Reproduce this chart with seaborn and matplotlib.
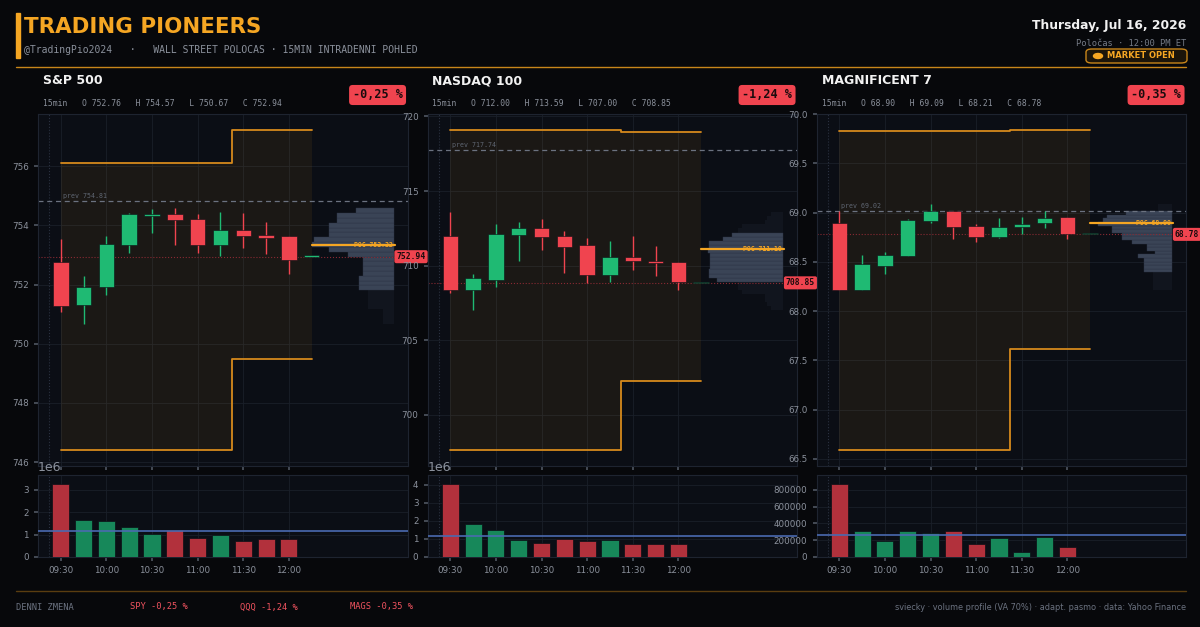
import numpy as np
import seaborn as sns
import matplotlib.pyplot as plt
import matplotlib.transforms as mtransforms
from matplotlib.patches import Rectangle, FancyBboxPatch, Ellipse
from matplotlib.lines import Line2D
from matplotlib.ticker import MultipleLocator

# --- data -------------------------------------------------------------
times = ['09:30', '09:45', '10:00', '10:15', '10:30', '10:45',
         '11:00', '11:15', '11:30', '11:45', '12:00', '12:15']

# S&P 500 (SPY x10)
spx_open = [752.76, 751.31, 751.91, 753.35, 754.32, 754.38, 754.22, 753.34, 753.85, 753.67, 753.63, 752.94]
spx_high = [753.55, 752.30, 753.65, 754.42, 754.55, 754.57, 754.39, 754.46, 754.43, 754.12, 753.63, 752.94]
spx_low = [751.08, 750.67, 751.64, 753.07, 753.74, 753.34, 753.07, 752.97, 753.25, 753.03, 752.36, 752.94]
spx_close = [751.27, 751.93, 753.38, 754.37, 754.38, 754.17, 753.34, 753.83, 753.65, 753.58, 752.84, 752.94]
spx_vol = [3270000, 1640000, 1590000, 1330000, 1010000, 1190000, 860000, 970000, 710000, 790000, 790000, 0]
spx_upper = [756.12, 756.12, 756.12, 756.12, 756.12, 756.12, 756.12, 756.12, 757.22, 757.22, 757.22, 757.22]
spx_lower = [746.41, 746.41, 746.41, 746.41, 746.41, 746.41, 746.41, 746.41, 749.49, 749.49, 749.49, 749.49]
spx_prev = 754.81
spx_poc = 753.32
spx_profile = [0.13, 0.13, 0.13, 0.31, 0.31, 0.31, 0.31, 0.43, 0.43, 0.43, 0.37, 0.37,
               0.37, 0.37, 0.56, 0.79, 1.00, 0.97, 0.79, 0.79, 0.79, 0.69, 0.69, 0.46]
spx_va = (7, 23)

# NASDAQ 100 (QQQ)
ndx_open = [712.00, 708.37, 709.04, 712.05, 712.50, 712.01, 711.41, 709.40, 710.60, 710.29, 710.25, 708.85]
ndx_high = [713.59, 709.47, 712.79, 712.92, 713.10, 712.30, 711.86, 711.67, 712.01, 711.32, 710.25, 708.85]
ndx_low = [708.19, 707.00, 708.59, 710.33, 711.05, 709.53, 708.86, 708.93, 709.69, 709.33, 708.35, 708.85]
ndx_close = [708.35, 709.17, 712.10, 712.50, 711.94, 711.23, 709.40, 710.60, 710.31, 710.18, 708.92, 708.85]
ndx_vol = [4060000, 1810000, 1480000, 940000, 790000, 980000, 870000, 920000, 740000, 700000, 740000, 0]
ndx_upper = [719.09, 719.09, 719.09, 719.09, 719.09, 719.09, 719.09, 719.09, 718.93, 718.93, 718.93, 718.93]
ndx_lower = [697.65, 697.65, 697.65, 697.65, 697.65, 697.65, 697.65, 697.65, 702.29, 702.29, 702.29, 702.29]
ndx_prev = 717.74
ndx_poc = 711.10
ndx_profile = [0.15, 0.20, 0.22, 0.22, 0.50, 0.55, 0.55, 0.81, 0.91, 0.91, 0.89, 0.89,
               0.89, 0.89, 0.92, 0.91, 0.91, 0.73, 0.63, 0.55, 0.50, 0.22, 0.20, 0.15]
ndx_va = (7, 18)

# MAGNIFICENT 7 (MAGS)
mag_open = [68.90, 68.21, 68.46, 68.56, 68.92, 69.02, 68.86, 68.75, 68.85, 68.90, 68.96, 68.78]
mag_high = [69.02, 68.57, 68.60, 68.94, 69.09, 69.02, 68.89, 68.95, 68.96, 69.02, 68.96, 68.78]
mag_low = [68.21, 68.21, 68.38, 68.56, 68.90, 68.73, 68.70, 68.74, 68.78, 68.84, 68.73, 68.78]
mag_close = [68.21, 68.48, 68.57, 68.93, 69.02, 68.85, 68.75, 68.85, 68.89, 68.95, 68.78, 68.78]
mag_vol = [871000, 305000, 194000, 305000, 289000, 305000, 158000, 226000, 59000, 242000, 119000, 0]
mag_upper = [69.83, 69.83, 69.83, 69.83, 69.83, 69.83, 69.83, 69.83, 69.84, 69.84, 69.84, 69.84]
mag_lower = [66.59, 66.59, 66.59, 66.59, 66.59, 66.59, 66.59, 66.59, 67.62, 67.62, 67.62, 67.62]
mag_prev = 69.02
mag_poc = 68.90
mag_profile = [0.23, 0.23, 0.23, 0.23, 0.23, 0.34, 0.34, 0.34, 0.34, 0.42, 0.21, 0.31,
               0.31, 0.49, 0.61, 0.61, 0.74, 0.74, 0.90, 0.85, 0.80, 0.57, 0.17, 0.17]
mag_va = (5, 21)

panels = [
    dict(name='S&P 500', ticker='SPY', o=spx_open, h=spx_high, l=spx_low, c=spx_close,
         vol=spx_vol, up=spx_upper, lo=spx_lower, prev=spx_prev, poc=spx_poc,
         prof=spx_profile, va=spx_va, step=2, vstep=1000000),
    dict(name='NASDAQ 100', ticker='QQQ', o=ndx_open, h=ndx_high, l=ndx_low, c=ndx_close,
         vol=ndx_vol, up=ndx_upper, lo=ndx_lower, prev=ndx_prev, poc=ndx_poc,
         prof=ndx_profile, va=ndx_va, step=5, vstep=1000000),
    dict(name='MAGNIFICENT 7', ticker='MAGS', o=mag_open, h=mag_high, l=mag_low, c=mag_close,
         vol=mag_vol, up=mag_upper, lo=mag_lower, prev=mag_prev, poc=mag_poc,
         prof=mag_profile, va=mag_va, step=0.5, vstep=200000),
]

# --- style ------------------------------------------------------------
FIG_BG = '#07080b'
AX_BG = '#0b0e15'
GRID = '#1a1f29'
SPINE = '#1e2430'
GREEN = '#1fba73'
RED = '#f0444f'
VGREEN = '#17885a'
VRED = '#b2313c'
ORANGE = '#f5a623'
BAND = '#d68a1c'
MUTED = '#8b919c'
MONO = 'DejaVu Sans Mono'

sns.set_theme(style='dark', rc={
    'figure.facecolor': FIG_BG, 'axes.facecolor': AX_BG, 'axes.edgecolor': SPINE,
    'axes.grid': True, 'grid.color': GRID, 'grid.linewidth': 0.6,
    'xtick.bottom': True, 'ytick.left': True, 'xtick.color': '#4d535e', 'ytick.color': '#4d535e',
    'xtick.labelcolor': MUTED, 'ytick.labelcolor': MUTED,
    'xtick.labelsize': 6.3, 'ytick.labelsize': 6.3,
    'xtick.major.size': 3, 'ytick.major.size': 3, 'text.color': '#e8e8e8',
})
plt.rcParams['font.family'] = ['DejaVu Sans']

W, H = 1200, 627
fig = plt.figure(figsize=(12, 6.27), dpi=100)


def fx(px):
    return px / W


def fy(py):
    return 1 - py / H


# header
fig.add_artist(Rectangle((fx(16), fy(58)), fx(3.5), 45 / H, color=ORANGE, transform=fig.transFigure))
fig.text(fx(24), fy(27), 'TRADING PIONEERS', fontsize=15.4, weight='bold', color=ORANGE, va='center')
fig.text(fx(24), fy(50), '@TradingPio2024   ·   WALL STREET POLOCAS · 15MIN INTRADENNI POHLED',
         fontsize=7.0, family=MONO, color=MUTED, va='center')
fig.text(fx(1186), fy(26), 'Thursday, Jul 16, 2026', fontsize=8.8, weight='bold', color='#f2f2f2',
         ha='right', va='center')
fig.text(fx(1186), fy(44), 'Poločas · 12:00 PM ET', fontsize=6.3, family=MONO, color='#767c87',
         ha='right', va='center')
fig.add_artist(FancyBboxPatch((fx(1086), fy(63)), fx(101), 14 / H,
                              boxstyle='round,pad=0,rounding_size=0.005',
                              fc='#1c150a', ec='#c8861a', lw=1, transform=fig.transFigure))
fig.add_artist(Ellipse((fx(1098), fy(56)), fx(9), 5 / H, color=ORANGE, transform=fig.transFigure))
fig.text(fx(1107), fy(56), 'MARKET OPEN', fontsize=6.0, weight='bold', color=ORANGE, va='center')
fig.add_artist(Line2D([fx(16), fx(1186)], [fy(67), fy(67)], color='#c8861a', lw=1))
fig.add_artist(Line2D([fx(16), fx(1186)], [fy(591), fy(591)], color='#5a3d10', lw=1))

lefts = [38, 427.5, 816.5]
AXW = 369.5
PROFILE_RIGHT = 14.6
PROFILE_SPAN = 3.6
x = np.arange(len(times))
tick_pos = x[:-1:2]
tick_lab = times[:-1:2]

for p, left in zip(panels, lefts):
    o, hi, lo, c = (np.array(p[k]) for k in ('o', 'h', 'l', 'c'))
    up, dn = np.array(p['up']), np.array(p['lo'])
    last = c[-1]
    chg = (last - p['prev']) / p['prev'] * 100
    chg_txt = f'{chg:.2f} %'.replace('.', ',')

    # titles
    fig.text(fx(left + 5), fy(81), p['name'], fontsize=9, weight='bold', color='#f2f2f2', va='center')
    fig.text(fx(left + 5), fy(103),
             f'15min   O {o[0]:.2f}   H {hi.max():.2f}   L {lo.min():.2f}   C {last:.2f}',
             fontsize=5.8, family=MONO, color=MUTED, va='center')
    fig.text(fx(left + AXW - 5), fy(95), chg_txt, fontsize=8.5, family=MONO, weight='bold',
             color='#1a0b0d', ha='right', va='center',
             bbox=dict(boxstyle='round,pad=0.3', fc=RED, ec='none'))

    # price axes
    ax = fig.add_axes([fx(left), fy(466), fx(AXW), 352 / H])
    span = up.max() - dn.min()
    ax.set_ylim(dn.min() - 0.05 * span, up.max() + 0.05 * span)
    ax.set_xlim(-1.0, 15.2)
    ax.yaxis.set_major_locator(MultipleLocator(p['step']))
    ax.set_xticks(tick_pos, tick_lab)
    for s in ax.spines.values():
        s.set_color(SPINE)
        s.set_linewidth(0.8)

    ax.fill_between(x, dn, up, step='mid', color=ORANGE, alpha=0.07, lw=0, zorder=1)
    ax.step(x, up, where='mid', color=BAND, lw=1.3, zorder=2)
    ax.step(x, dn, where='mid', color=BAND, lw=1.3, zorder=2)
    ax.axvline(-0.5, color='#2a3140', lw=0.8, ls=':', zorder=1)

    # volume profile
    edges = np.linspace(lo.min(), hi.max(), len(p['prof']) + 1)
    centers = (edges[:-1] + edges[1:]) / 2
    bh = np.diff(edges)
    widths = np.array(p['prof']) * PROFILE_SPAN
    idx = np.arange(len(widths))
    in_va = (idx >= p['va'][0]) & (idx <= p['va'][1])
    ax.barh(centers[~in_va], widths[~in_va], left=PROFILE_RIGHT - widths[~in_va], height=bh[~in_va],
            color='#3a4456', alpha=0.14, lw=0, zorder=2)
    ax.barh(centers[in_va], widths[in_va], left=PROFILE_RIGHT - widths[in_va], height=bh[in_va],
            color='#3a4456', edgecolor='#2c3444', lw=0.3, zorder=2)

    # reference lines
    ax.axhline(p['prev'], color='#6b7280', lw=0.9, ls=(0, (4, 3)), zorder=2.5)
    ax.text(0.08, p['prev'], f"prev {p['prev']:.2f}", fontsize=4.8, family=MONO, color='#5f6672',
            va='bottom', transform=mtransforms.offset_copy(ax.transData, fig=fig, y=2, units='dots'))
    ax.axhline(last, color='#8a2a33', lw=0.8, ls=':', zorder=2.5)
    ax.plot([x[-1], PROFILE_RIGHT + 0.05], [p['poc'], p['poc']], color=ORANGE, lw=1.6, zorder=5)
    ax.text(PROFILE_RIGHT - 0.05, p['poc'], f"POC {p['poc']:.2f}", fontsize=4.7, family=MONO,
            weight='bold', color=ORANGE, ha='right', va='center', zorder=6)
    ax.text(0.97, last, f'{last:.2f}', fontsize=5.8, family=MONO, weight='bold', color='#1a0b0d',
            ha='left', va='center', clip_on=False, zorder=10,
            transform=mtransforms.blended_transform_factory(ax.transAxes, ax.transData),
            bbox=dict(boxstyle='round,pad=0.25', fc=RED, ec='none'))

    # candles
    up_bar = c >= o
    colors = np.where(up_bar, GREEN, RED)
    ax.vlines(x, lo, hi, colors=colors, lw=1.0, zorder=3)
    body = np.maximum(np.abs(c - o), span * 0.004)
    ax.bar(x, body, bottom=np.minimum(o, c), width=0.68, color=colors,
           edgecolor='#0b0e15', lw=0.4, zorder=4)

    # volume axes
    vax = fig.add_axes([fx(left), fy(557), fx(AXW), 82 / H])
    vol = np.array(p['vol'], dtype=float)
    vcol = np.where(up_bar, VGREEN, VRED)
    mask = vol > 0
    vax.bar(x[mask], vol[mask], width=0.75, color=vcol[mask], edgecolor='#0b0e15', lw=0.5, zorder=3)
    vax.axhline(vol.mean(), color='#4a6ab0', lw=1.2, zorder=4)
    vax.axvline(-0.5, color='#2a3140', lw=0.8, ls=':', zorder=1)
    vax.set_xlim(-1.0, 15.2)
    vax.set_ylim(0, vol.max() * 1.12)
    vax.yaxis.set_major_locator(MultipleLocator(p['vstep']))
    vax.set_xticks(tick_pos, tick_lab)
    vax.yaxis.get_offset_text().set_color(MUTED)
    vax.yaxis.get_offset_text().set_fontsize(9)
    for s in vax.spines.values():
        s.set_color(SPINE)
        s.set_linewidth(0.8)

# footer
fig.text(fx(16), fy(607), 'DENNI ZMENA', fontsize=6.3, family=MONO, color='#6b7280', va='center')
for p, xp in zip(panels, [130, 240, 350]):
    chg = (p['c'][-1] - p['prev']) / p['prev'] * 100
    fig.text(fx(xp), fy(607), f"{p['ticker']} {chg:.2f} %".replace('.', ','), fontsize=6.3,
             family=MONO, color='#f0535f', va='center')
fig.text(fx(1186), fy(607), 'sviecky · volume profile (VA 70%) · adapt. pasmo · data: Yahoo Finance',
         fontsize=5.9, color='#6b7280', ha='right', va='center')

fig.savefig('out.png', dpi=100, facecolor=FIG_BG)
